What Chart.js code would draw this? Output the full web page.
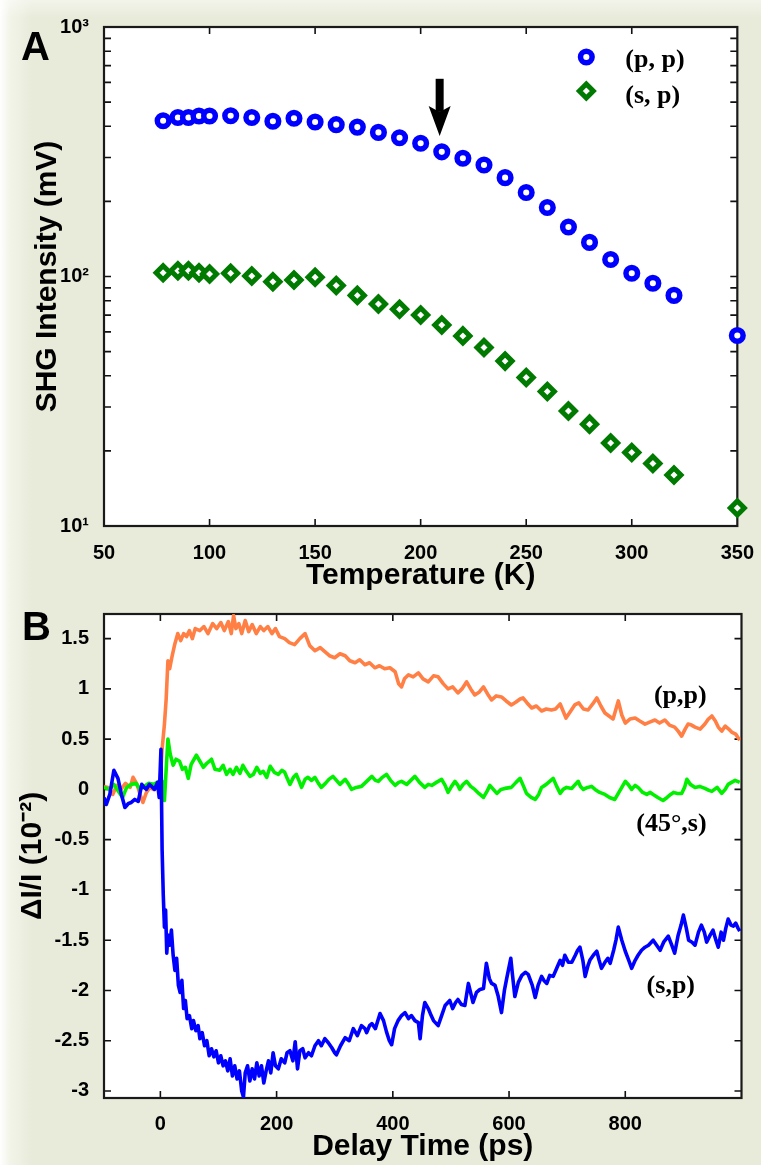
<!DOCTYPE html>
<html>
<head>
<meta charset="utf-8">
<title>SHG intensity vs temperature and transient response</title>
<script src="https://cdn.jsdelivr.net/npm/chart.js@4.4.1/dist/chart.umd.min.js"></script>
<style>
  html, body { margin: 0; padding: 0; }
  body {
    width: 761px; height: 1165px; position: relative; overflow: hidden;
    background:
      linear-gradient(to bottom, rgba(255,255,255,0.45) 0px, rgba(255,255,255,0) 18px),
      linear-gradient(to right, #ffffff 0px, #f2f4e9 10px, #e8ebda 32px, #e8ebda 100%);
  }
  canvas { position: absolute; left: 0; }
  #chartA { top: 0; }
  #chartB { top: 595px; }
</style>
</head>
<body>
<canvas id="chartA" width="761" height="595"></canvas>
<canvas id="chartB" width="761" height="570"></canvas>
<script>
// ---------- Panel A : SHG intensity vs temperature ----------
const temperatureK = [78, 85, 90, 95, 100, 110, 120, 130, 140, 150, 160, 170, 180, 190, 200,
  210, 220, 230, 240, 250, 260, 270, 280, 290, 300, 310, 320, 350];
const shgPP = [421, 434, 434, 440, 440, 441, 434, 419, 431, 416, 406, 397, 378, 360, 342,
  316, 298, 280, 249, 217, 189, 158, 137, 117, 103, 94, 84, 58];
const shgSP = [103.6, 105.5, 105.5, 103.6, 102.3, 103, 100.5, 95.3, 96.8, 99.3, 92, 84, 77.6, 73.9, 70.1,
  63.9, 57.8, 51.9, 45.8, 39.4, 34.6, 28.9, 25.6, 21.5, 19.7, 17.8, 16.0, 11.8];
const tempTicks = [50, 100, 150, 200, 250, 300, 350];
const shgDecades = [10, 100, 1000];
const shgDecadeLabels = ['10¹', '10²', '10³'];
// arrow marking the transition temperature
const arrowT = 209, arrowFrom = 620, arrowTo = 366;

// ---------- Panel B : transient response vs delay ----------
const ppTime = [-97,-90,-82,-75,-68,-60,-52,-47,-40,-35,-30,-24,-18,-12,-6,0,3,7,10,13,
  16,20,25,30,35,40,45,50,55,60,68,75,82,90,97,104,110,117,122,126,
  130,135,140,146,152,158,165,172,178,185,192,198,205,214,222,231,240,249,257,266,
  275,283,291,300,309,318,326,335,343,352,360,369,377,386,395,404,410,415,420,427,
  435,444,452,461,470,478,487,495,503,512,519,527,534,541,549,556,563,570,578,587,
  595,604,612,619,624,631,639,647,656,664,673,680,688,693,698,705,713,720,728,736,
  744,751,758,765,772,779,784,788,794,800,808,817,825,834,842,851,859,868,876,885,
  891,897,903,908,914,920,929,937,943,949,955,960,966,972,978,983,990,997];
const ppDelta = [0.03,0.02,-0.05,0.04,0,0.06,0.02,0.12,0.05,-0.05,-0.13,-0.03,0.02,0,0.05,0.1,0.4,0.65,0.9,1.28,
  1.2,1.32,1.45,1.55,1.48,1.55,1.52,1.58,1.5,1.6,1.58,1.62,1.55,1.65,1.6,1.66,1.58,1.67,1.55,1.73,
  1.6,1.65,1.55,1.68,1.57,1.64,1.55,1.62,1.58,1.62,1.55,1.6,1.52,1.5,1.46,1.44,1.5,1.55,1.43,1.38,
  1.41,1.37,1.33,1.31,1.35,1.33,1.28,1.26,1.29,1.24,1.26,1.21,1.23,1.2,1.21,1.17,1.05,1.02,1.1,1.14,
  1.12,1.16,1.1,1.07,1.13,1.12,1.05,1.0,1.02,0.96,1.0,1.07,1.0,0.94,0.97,1.02,0.95,0.89,0.93,0.92,
  0.88,0.84,0.87,0.9,0.91,0.86,0.81,0.83,0.78,0.8,0.79,0.8,0.85,0.78,0.71,0.77,0.84,0.86,0.8,0.79,
  0.85,0.91,0.83,0.76,0.73,0.7,0.8,0.88,0.74,0.66,0.7,0.71,0.68,0.65,0.67,0.69,0.66,0.69,0.64,0.62,
  0.58,0.53,0.6,0.65,0.64,0.62,0.6,0.65,0.7,0.73,0.68,0.62,0.58,0.63,0.6,0.57,0.55,0.49];

const s45Time = [-97,-88,-80,-72,-65,-58,-50,-42,-35,-28,-20,-12,-5,3,7,10,13,17,22,27,
  33,38,43,48,53,58,62,68,74,80,88,94,102,108,114,120,125,131,137,142,
  148,154,160,166,172,177,183,189,196,203,209,214,219,223,229,234,239,243,249,254,
  260,266,272,277,284,290,297,303,309,318,323,329,337,346,355,364,370,375,382,389,
  396,404,410,415,424,431,438,446,455,461,467,475,484,490,495,501,507,512,515,521,
  527,534,541,548,556,562,567,573,579,586,593,604,612,619,625,630,638,645,651,656,
  664,670,676,682,688,693,699,708,714,719,723,728,735,742,748,756,765,773,782,790,
  800,805,811,817,822,830,837,843,848,856,865,872,878,883,890,897,902,906,912,920,
  928,937,944,949,958,966,972,977,983,989,997];
const s45Delta = [0.02,0,0.05,-0.02,-0.08,0.02,0.05,0.06,0,0.03,0.06,0.05,0.07,0.08,-0.11,0.2,0.5,0.35,0.24,0.3,
  0.28,0.2,0.22,0.11,0.25,0.3,0.34,0.28,0.22,0.26,0.3,0.2,0.19,0.24,0.15,0.2,0.15,0.22,0.16,0.24,
  0.18,0.13,0.15,0.22,0.16,0.18,0.12,0.23,0.17,0.15,0.19,0.17,0.1,0.05,0.12,0.15,0.08,0.02,0.1,0.12,
  0.09,0.12,0.06,0.02,0.06,0.1,0.13,0.09,0.05,0.1,0.06,0,0.02,0.03,0.08,0.13,0.09,0.08,0.12,0.15,
  0.09,0.04,0.07,0.08,0.05,0.09,0.13,0.07,0.02,0.05,0.04,0.07,0.1,0.04,-0.03,0.03,0.08,0.04,0,0.05,
  0.08,0.03,0,-0.04,-0.08,-0.02,0.04,0,-0.04,0,0.01,0.02,0.07,0.11,0.03,-0.04,-0.08,-0.1,-0.05,0.02,
  0.05,0.08,0.11,0.03,-0.04,0,0.02,0.01,0.05,0.08,0.03,0,0.02,0.03,0,-0.03,-0.05,-0.08,-0.1,-0.02,
  0.08,0.05,0,0.04,0.02,-0.03,-0.05,-0.03,-0.05,-0.08,-0.11,-0.08,-0.05,-0.03,-0.04,-0.04,0.02,0.1,0.05,0.02,
  0.03,0.01,-0.01,-0.02,0.02,-0.04,0,0.05,0.07,0.09,0.07];

const spTime = [-97,-93,-87,-80,-73,-67,-61,-55,-50,-44,-38,-32,-28,-24,-19,-15,-10,-5,-2,1,
  3,5,7,9,11,13,16,19,22,25,28,31,34,37,40,43,46,50,54,57,
  61,65,68,72,76,80,84,88,92,96,100,104,108,112,116,120,124,128,132,136,
  140,143,146,150,154,158,162,166,170,174,178,182,186,190,194,198,203,208,214,218,
  223,228,232,236,240,245,249,255,260,266,272,277,283,289,295,300,303,310,318,325,
  332,339,346,352,355,360,364,370,378,384,389,394,398,403,409,415,421,427,432,438,
  444,447,451,455,461,466,470,478,484,490,498,503,508,512,518,524,530,538,544,550,
  556,561,566,570,576,581,587,592,596,603,606,610,616,622,628,633,640,645,650,656,
  660,665,670,676,682,688,692,696,702,708,714,718,722,727,731,736,739,745,751,755,
  759,765,770,774,780,784,788,794,800,806,811,817,822,828,834,840,848,854,860,866,
  874,880,885,891,896,900,905,909,915,920,926,931,936,940,946,951,956,960,965,969,
  973,977,982,986,990,994,997];
const spDelta = [-0.08,-0.15,-0.05,0.19,0.11,-0.05,-0.18,-0.14,-0.13,-0.1,-0.12,0.05,0.02,0,0.05,0.03,0,0.07,-0.08,0.4,
  -0.6,-1.05,-1.37,-1.2,-1.63,-1.45,-1.55,-1.4,-1.65,-1.8,-1.68,-1.95,-2.02,-1.9,-2.18,-2.1,-2.28,-2.25,-2.38,-2.3,
  -2.4,-2.35,-2.48,-2.42,-2.55,-2.5,-2.65,-2.58,-2.66,-2.6,-2.72,-2.65,-2.75,-2.7,-2.8,-2.68,-2.85,-2.75,-2.88,-2.8,
  -3.0,-3.06,-2.82,-2.75,-2.9,-2.78,-2.88,-2.72,-2.85,-2.75,-2.92,-2.8,-2.7,-2.82,-2.62,-2.75,-2.78,-2.68,-2.72,-2.62,
  -2.6,-2.7,-2.51,-2.78,-2.6,-2.58,-2.67,-2.62,-2.65,-2.55,-2.5,-2.55,-2.48,-2.52,-2.57,-2.62,-2.64,-2.55,-2.47,-2.5,
  -2.38,-2.45,-2.35,-2.38,-2.42,-2.35,-2.33,-2.38,-2.23,-2.3,-2.41,-2.5,-2.54,-2.38,-2.3,-2.25,-2.22,-2.28,-2.25,-2.3,
  -2.32,-2.48,-2.25,-2.12,-2.18,-2.25,-2.3,-2.35,-2.25,-2.15,-2.1,-2.18,-2.12,-2.09,-2.14,-2.15,-1.93,-2.12,-2.02,-1.99,
  -1.98,-1.73,-1.88,-1.93,-1.95,-2.05,-2.22,-2.0,-1.88,-1.68,-1.85,-2.06,-1.92,-1.85,-1.82,-1.84,-1.95,-2.07,-1.95,-1.86,
  -1.9,-1.93,-1.85,-1.86,-1.78,-1.7,-1.75,-1.65,-1.72,-1.72,-1.65,-1.6,-1.57,-1.7,-1.86,-1.75,-1.7,-1.65,-1.61,-1.7,
  -1.78,-1.72,-1.68,-1.73,-1.6,-1.5,-1.37,-1.5,-1.61,-1.7,-1.78,-1.7,-1.65,-1.6,-1.57,-1.55,-1.5,-1.55,-1.6,-1.52,
  -1.46,-1.55,-1.63,-1.45,-1.35,-1.25,-1.38,-1.5,-1.52,-1.55,-1.42,-1.35,-1.42,-1.52,-1.45,-1.4,-1.5,-1.57,-1.42,-1.5,
  -1.38,-1.29,-1.35,-1.36,-1.33,-1.38,-1.41];

const delayTicks = [0, 200, 400, 600, 800];
const deltaTicks = [-3, -2.5, -2, -1.5, -1, -0.5, 0, 0.5, 1, 1.5];

// ---------- shared styling ----------
Chart.defaults.font.family = '"Liberation Sans", Arial, Helvetica, sans-serif';
Chart.defaults.color = '#000';
const tickFont = { size: 20, weight: 'bold' };
const titleFont = { size: 30, weight: 'bold' };
const serifLabel = 'bold 26px "Liberation Serif", "Times New Roman", serif';

const ppMarker = { style: 'circle', radius: 5.8, border: 5.5, color: '#0000ff' };
const spMarker = { style: 'rectRot', radius: 7, border: 5, color: '#007a00' };

function zip(xs, ys) {
  return xs.map((x, i) => ({ x: x, y: ys[i] }));
}

function drawMarker(ctx, m, x, y) {
  ctx.save();
  ctx.lineWidth = m.border;
  ctx.strokeStyle = m.color;
  ctx.fillStyle = '#fff';
  ctx.beginPath();
  if (m.style === 'circle') {
    ctx.arc(x, y, m.radius, 0, Math.PI * 2);
  } else {
    ctx.moveTo(x - m.radius, y);
    ctx.lineTo(x, y - m.radius);
    ctx.lineTo(x + m.radius, y);
    ctx.lineTo(x, y + m.radius);
    ctx.closePath();
  }
  ctx.fill();
  ctx.stroke();
  ctx.restore();
}

// white plot area, frame and inward tick marks (matlab style)
const boxPlugin = {
  id: 'boxTicks',
  beforeDraw(chart) {
    const { ctx, chartArea: a } = chart;
    ctx.save();
    ctx.fillStyle = '#fff';
    ctx.fillRect(a.left, a.top, a.right - a.left, a.bottom - a.top);
    ctx.restore();
  },
  beforeDatasetsDraw(chart) {
    const { ctx, chartArea: a, scales } = chart;
    const tl = 7;
    ctx.save();
    ctx.strokeStyle = '#111';
    ctx.lineWidth = 1.6;
    ctx.beginPath();
    scales.x.ticks.forEach(t => {
      const px = scales.x.getPixelForValue(t.value);
      if (px < a.left + 2 || px > a.right - 2) return;
      ctx.moveTo(px, a.bottom); ctx.lineTo(px, a.bottom - tl);
      ctx.moveTo(px, a.top); ctx.lineTo(px, a.top + tl);
    });
    scales.y.ticks.forEach(t => {
      const py = scales.y.getPixelForValue(t.value);
      if (py < a.top + 1 || py > a.bottom - 1) return;
      ctx.moveTo(a.left, py); ctx.lineTo(a.left + tl, py);
      ctx.moveTo(a.right, py); ctx.lineTo(a.right - tl, py);
    });
    ctx.stroke();
    ctx.lineWidth = 2.2;
    ctx.strokeStyle = '#1a1a1a';
    ctx.strokeRect(a.left, a.top, a.right - a.left, a.bottom - a.top);
    ctx.restore();
  }
};

// ---------- Panel A ----------
const annotA = {
  id: 'annotA',
  afterDraw(chart) {
    const { ctx, chartArea: a, scales } = chart;
    ctx.save();
    // panel letter
    ctx.fillStyle = '#000';
    ctx.font = 'bold 40px "Liberation Sans", Arial, sans-serif';
    ctx.textBaseline = 'alphabetic';
    ctx.fillText('A', 21, 60);

    // arrow
    const x = scales.x.getPixelForValue(arrowT);
    const y0 = scales.y.getPixelForValue(arrowFrom);
    const y1 = scales.y.getPixelForValue(arrowTo);
    ctx.fillRect(x - 4, y0, 8, y1 - y0 - 24);
    ctx.beginPath();
    ctx.moveTo(x - 11, y1 - 30);
    ctx.lineTo(x, y1 - 24);
    ctx.lineTo(x + 11, y1 - 30);
    ctx.lineTo(x, y1);
    ctx.closePath();
    ctx.fill();

    // legend
    const lx = a.right - 151, tx = a.right - 112;
    drawMarker(ctx, ppMarker, lx, a.top + 30);
    drawMarker(ctx, spMarker, lx, a.top + 64);
    ctx.fillStyle = '#000';
    ctx.font = serifLabel;
    ctx.textBaseline = 'middle';
    ctx.textAlign = 'left';
    ctx.fillText('(p, p)', tx, a.top + 33);
    ctx.fillText('(s, p)', tx, a.top + 69);
    ctx.restore();
  }
};

new Chart(document.getElementById('chartA'), {
  type: 'scatter',
  data: {
    datasets: [
      {
        label: '(p, p)',
        data: zip(temperatureK, shgPP),
        pointStyle: ppMarker.style,
        radius: ppMarker.radius,
        borderWidth: ppMarker.border,
        borderColor: ppMarker.color,
        backgroundColor: '#fff',
        clip: false
      },
      {
        label: '(s, p)',
        data: zip(temperatureK, shgSP),
        pointStyle: spMarker.style,
        radius: spMarker.radius,
        borderWidth: spMarker.border,
        borderColor: spMarker.color,
        backgroundColor: '#fff',
        clip: false
      }
    ]
  },
  options: {
    responsive: false,
    animation: false,
    events: [],
    layout: { padding: { left: 0, top: 27, right: 17, bottom: 0 } },
    plugins: { legend: { display: false }, tooltip: { enabled: false } },
    scales: {
      x: {
        type: 'linear',
        min: 50, max: 350,
        grid: { display: false },
        border: { display: false },
        afterBuildTicks: s => { s.ticks = tempTicks.map(v => ({ value: v })); },
        afterFit: s => { s.height = 69; },
        ticks: { font: tickFont, padding: 7, maxRotation: 0, autoSkip: false },
        title: { display: true, text: 'Temperature (K)', font: titleFont, padding: { top: 0, bottom: 1 } }
      },
      y: {
        type: 'logarithmic',
        min: 10, max: 1000,
        grid: { display: false },
        border: { display: false },
        afterBuildTicks: s => {
          const vals = [];
          shgDecades.slice(0, -1).forEach(d => { for (let k = 1; k < 10; k++) vals.push(d * k); });
          vals.push(shgDecades[shgDecades.length - 1]);
          s.ticks = vals.map(v => ({ value: v }));
        },
        afterFit: s => { s.width = 104; },
        ticks: {
          font: tickFont, padding: 7, autoSkip: false,
          callback: v => {
            const i = shgDecades.indexOf(v);
            return i >= 0 ? shgDecadeLabels[i] : '';
          }
        },
        title: { display: true, text: 'SHG Intensity (mV)', font: titleFont, padding: { top: 30, bottom: 0 } }
      }
    }
  },
  plugins: [boxPlugin, annotA]
});

// ---------- Panel B ----------
const seriesLabels = [
  { text: '(p,p)', t: 940, v: 0.93, align: 'right' },
  { text: '(45°,s)', t: 940, v: -0.35, align: 'right' },
  { text: '(s,p)', t: 920, v: -1.96, align: 'right' }
];

const annotB = {
  id: 'annotB',
  afterDraw(chart) {
    const { ctx, scales } = chart;
    ctx.save();
    ctx.fillStyle = '#000';
    ctx.font = 'bold 40px "Liberation Sans", Arial, sans-serif';
    ctx.textBaseline = 'alphabetic';
    ctx.fillText('B', 22, 45);
    ctx.font = serifLabel;
    ctx.textBaseline = 'middle';
    seriesLabels.forEach(l => {
      ctx.textAlign = l.align;
      ctx.fillText(l.text, scales.x.getPixelForValue(l.t), scales.y.getPixelForValue(l.v));
    });
    ctx.restore();
  }
};

const lineStyle = { borderWidth: 3.6, pointRadius: 0, tension: 0, borderJoinStyle: 'round', fill: false };

new Chart(document.getElementById('chartB'), {
  type: 'line',
  data: {
    datasets: [
      Object.assign({ label: '(s,p)', data: zip(spTime, spDelta), borderColor: '#0000ff' }, lineStyle),
      Object.assign({ label: '(45°,s)', data: zip(s45Time, s45Delta), borderColor: '#00f000' }, lineStyle),
      Object.assign({ label: '(p,p)', data: zip(ppTime, ppDelta), borderColor: '#ff7f45' }, lineStyle)
    ]
  },
  options: {
    responsive: false,
    animation: false,
    events: [],
    layout: { padding: { left: 0, top: 7, right: 19.5, bottom: 0 } },
    plugins: { legend: { display: false }, tooltip: { enabled: false } },
    scales: {
      x: {
        type: 'linear',
        min: -97, max: 1000,
        grid: { display: false },
        border: { display: false },
        afterBuildTicks: s => { s.ticks = delayTicks.map(v => ({ value: v })); },
        afterFit: s => { s.height = 67; },
        ticks: { font: tickFont, padding: 6, maxRotation: 0, autoSkip: false },
        title: { display: true, text: 'Delay Time (ps)', font: titleFont, padding: { top: 0, bottom: 0 } }
      },
      y: {
        type: 'linear',
        min: -3.07, max: 1.745,
        grid: { display: false },
        border: { display: false },
        afterBuildTicks: s => { s.ticks = deltaTicks.map(v => ({ value: v })); },
        afterFit: s => { s.width = 104; },
        ticks: { font: tickFont, padding: 7, autoSkip: false, callback: v => String(v) },
        title: { display: true, text: 'ΔI/I (10⁻²)', font: titleFont, padding: { top: 14.5, bottom: 0 } }
      }
    }
  },
  plugins: [boxPlugin, annotB]
});
</script>
</body>
</html>
